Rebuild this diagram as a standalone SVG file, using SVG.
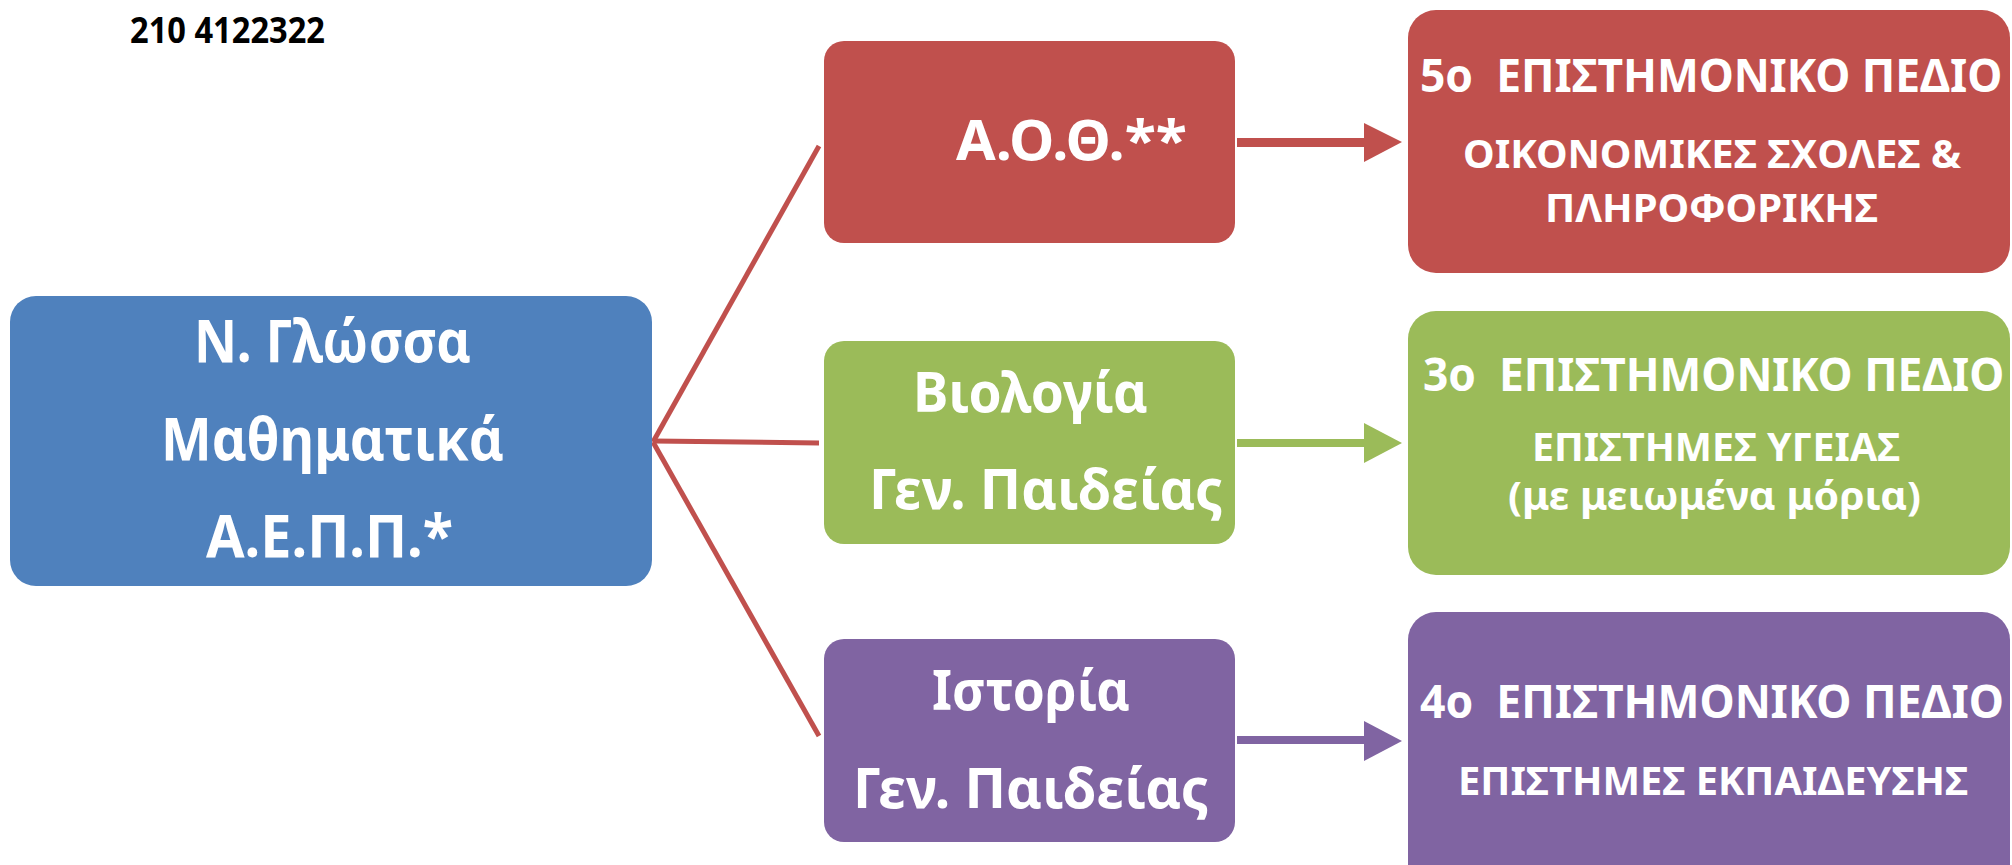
<svg xmlns="http://www.w3.org/2000/svg" width="2012" height="865" viewBox="0 0 2012 865">
<style>
.t{font-family:"Noto Sans","Open Sans","DejaVu Sans",sans-serif;font-weight:bold;fill:#fff;white-space:pre}
.ph{font-family:"Noto Sans","Open Sans","DejaVu Sans",sans-serif;font-weight:bold;fill:#000}
.red{fill:#C0504D}.grn{fill:#9BBB59}.pur{fill:#8064A2}.blu{fill:#4F81BD}
.ln{stroke:#C0504D;stroke-width:5;fill:none}
</style>
<rect width="2012" height="865" fill="#fff"/>
<g id="phone"><text class="ph" x="130" y="43" font-size="35" textLength="195" lengthAdjust="spacingAndGlyphs">210 4122322</text></g>
<g id="connectors">
<line class="ln" x1="653" y1="442" x2="819" y2="146"/>
<line class="ln" x1="653" y1="441" x2="819" y2="443"/>
<line class="ln" x1="653" y1="442" x2="819" y2="736"/>
<rect class="red" x="1237" y="138" width="128" height="9"/>
<polygon class="red" points="1364,123 1402,142 1364,162"/>
<rect class="grn" x="1237" y="439" width="128" height="8"/>
<polygon class="grn" points="1364,423 1402,443 1364,463"/>
<rect class="pur" x="1237" y="736" width="128" height="8"/>
<polygon class="pur" points="1364,721 1402,741 1364,761"/>
</g>
<g id="core">
<rect class="blu" x="10" y="296" width="642" height="290" rx="26"/>
<text class="t" x="194" y="362" font-size="59" textLength="277" lengthAdjust="spacingAndGlyphs">Ν. Γλώσσα</text>
<text class="t" x="161" y="460" font-size="59" textLength="343" lengthAdjust="spacingAndGlyphs">Μαθηματικά</text>
<text class="t" x="206" y="557" font-size="59" textLength="247" lengthAdjust="spacingAndGlyphs">Α.Ε.Π.Π.*</text>
</g>
<g id="aoth">
<rect class="red" x="824" y="41" width="411" height="202" rx="20"/>
<text class="t" x="956" y="160" font-size="56" textLength="231" lengthAdjust="spacingAndGlyphs">Α.Ο.Θ.**</text>
</g>
<g id="biologia">
<rect class="grn" x="824" y="341" width="411" height="203" rx="20"/>
<text class="t" x="913" y="412" font-size="56" textLength="235" lengthAdjust="spacingAndGlyphs">Βιολογία</text>
<text class="t" x="869" y="509" font-size="56" textLength="354" lengthAdjust="spacingAndGlyphs">Γεν. Παιδείας</text>
</g>
<g id="istoria">
<rect class="pur" x="824" y="639" width="411" height="203" rx="20"/>
<text class="t" x="932" y="710" font-size="56" textLength="198" lengthAdjust="spacingAndGlyphs">Ιστορία</text>
<text class="t" x="853" y="808" font-size="56" textLength="356" lengthAdjust="spacingAndGlyphs">Γεν. Παιδείας</text>
</g>
<g id="pedio5">
<rect class="red" x="1408" y="10" width="602" height="263" rx="28"/>
<text class="t" transform="translate(1420,92) scale(0.86,1)" font-size="46" textLength="677" lengthAdjust="spacingAndGlyphs" xml:space="preserve">5ο  ΕΠΙΣΤΗΜΟΝΙΚΟ ΠΕΔΙΟ</text>
<text class="t" x="1463" y="168" font-size="39" textLength="498" lengthAdjust="spacingAndGlyphs">ΟΙΚΟΝΟΜΙΚΕΣ ΣΧΟΛΕΣ &amp;</text>
<text class="t" x="1545" y="222" font-size="39" textLength="333" lengthAdjust="spacingAndGlyphs">ΠΛΗΡΟΦΟΡΙΚΗΣ</text>
</g>
<g id="pedio3">
<rect class="grn" x="1408" y="311" width="602" height="264" rx="28"/>
<text class="t" transform="translate(1423,391) scale(0.86,1)" font-size="46" textLength="676" lengthAdjust="spacingAndGlyphs" xml:space="preserve">3ο  ΕΠΙΣΤΗΜΟΝΙΚΟ ΠΕΔΙΟ</text>
<text class="t" x="1532" y="461" font-size="39" textLength="368" lengthAdjust="spacingAndGlyphs">ΕΠΙΣΤΗΜΕΣ ΥΓΕΙΑΣ</text>
<text class="t" x="1508" y="510" font-size="39" textLength="413" lengthAdjust="spacingAndGlyphs">(με μειωμένα μόρια)</text>
</g>
<g id="pedio4">
<rect class="pur" x="1408" y="612" width="602" height="280" rx="28"/>
<text class="t" transform="translate(1420,718) scale(0.86,1)" font-size="46" textLength="679" lengthAdjust="spacingAndGlyphs" xml:space="preserve">4ο  ΕΠΙΣΤΗΜΟΝΙΚΟ ΠΕΔΙΟ</text>
<text class="t" x="1458" y="795" font-size="39" textLength="510" lengthAdjust="spacingAndGlyphs">ΕΠΙΣΤΗΜΕΣ ΕΚΠΑΙΔΕΥΣΗΣ</text>
</g>
</svg>
